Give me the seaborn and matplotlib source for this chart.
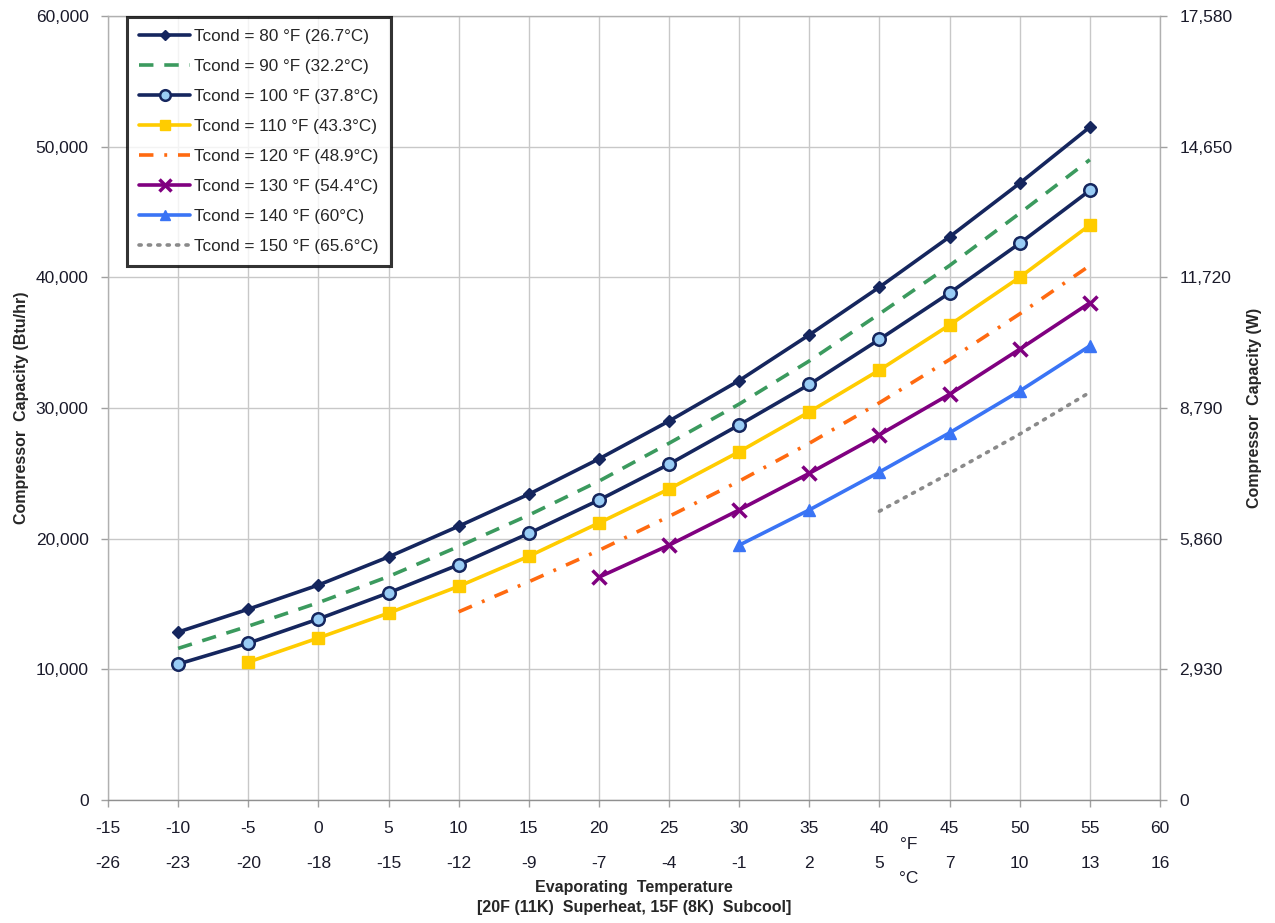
import numpy as np
import pandas as pd
import matplotlib
matplotlib.use("Agg")
import matplotlib.pyplot as plt
import seaborn as sns
from matplotlib.lines import Line2D
from matplotlib.ticker import FuncFormatter

# Evaporating temperature (°F) and corresponding °C row labels
temp_f = [-15, -10, -5, 0, 5, 10, 15, 20, 25, 30, 35, 40, 45, 50, 55, 60]
temp_c = [-26, -23, -20, -18, -15, -12, -9, -7, -4, -1, 2, 5, 7, 10, 13, 16]

# Compressor capacity (Btu/hr) per condensing temperature
t80_x = [-10, -5, 0, 5, 10, 15, 20, 25, 30, 35, 40, 45, 50, 55]
t80_y = [12850, 14600, 16450, 18600, 20950, 23400, 26100, 29000, 32100, 35600, 39250, 43100, 47200, 51500]
t90_x = [-10, -5, 0, 5, 10, 15, 20, 25, 30, 35, 40, 45, 50, 55]
t90_y = [11600, 13300, 15100, 17100, 19400, 21800, 24400, 27300, 30300, 33600, 37200, 40900, 44900, 49000]
t100_x = [-10, -5, 0, 5, 10, 15, 20, 25, 30, 35, 40, 45, 50, 55]
t100_y = [10400, 12000, 13850, 15850, 18000, 20400, 22950, 25700, 28700, 31800, 35250, 38800, 42600, 46650]
t110_x = [-5, 0, 5, 10, 15, 20, 25, 30, 35, 40, 45, 50, 55]
t110_y = [10550, 12400, 14300, 16350, 18650, 21200, 23800, 26650, 29700, 32900, 36350, 40000, 44000]
t120_x = [10, 15, 20, 25, 30, 35, 40, 45, 50, 55]
t120_y = [14400, 16700, 19100, 21700, 24400, 27300, 30400, 33700, 37200, 40900]
t130_x = [20, 25, 30, 35, 40, 45, 50, 55]
t130_y = [17050, 19500, 22200, 25000, 27950, 31050, 34500, 38050]
t140_x = [30, 35, 40, 45, 50, 55]
t140_y = [19500, 22200, 25100, 28100, 31300, 34750]
t150_x = [40, 45, 50, 55]
t150_y = [22100, 25000, 28000, 31200]

labels = [
    "Tcond = 80 °F (26.7°C)",
    "Tcond = 90 °F (32.2°C)",
    "Tcond = 100 °F (37.8°C)",
    "Tcond = 110 °F (43.3°C)",
    "Tcond = 120 °F (48.9°C)",
    "Tcond = 130 °F (54.4°C)",
    "Tcond = 140 °F (60°C)",
    "Tcond = 150 °F (65.6°C)",
]

# Right axis (W) tick values
watts_ticks = [0, 2930, 5860, 8790, 11720, 14650, 17580]

sns.set_theme(style="white")
plt.rcParams["font.family"] = ["Liberation Sans", "DejaVu Sans"]

navy = "#15265e"
gray = "#8a8a8a"
tick_gray = "#a0a0a0"
label_color = "#1a1a2a"
styles = [
    dict(color=navy, ls="-", marker="D", ms=6, mfc=navy, mec=navy, mew=1),
    dict(color="#3b9a5e", ls=(0, (4, 3)), marker=None),
    dict(color=navy, ls="-", marker="o", ms=9, mfc="#99ccf5", mec=navy, mew=1.8),
    dict(color="#ffcc00", ls="-", marker="s", ms=8, mfc="#ffcc00", mec="#ffcc00", mew=1),
    dict(color="#ff6a10", ls=(0, (4, 3, 0.8, 3)), marker=None),
    dict(color="#800080", ls="-", marker="x", ms=10, mfc="#800080", mec="#800080", mew=2.5),
    dict(color="#3a74f5", ls="-", marker="^", ms=8, mfc="#3a74f5", mec="#3a74f5", mew=1),
    dict(color=gray, ls=(0, (0.6, 2.0)), marker=None),
]

series = [(t80_x, t80_y), (t90_x, t90_y), (t100_x, t100_y), (t110_x, t110_y),
          (t120_x, t120_y), (t130_x, t130_y), (t140_x, t140_y), (t150_x, t150_y)]

fig = plt.figure(figsize=(12.75, 9.23), dpi=100)
ax = fig.add_axes([0.0847, 0.1333, 0.8251, 0.8494])

lw = 2.6
handles = []
for (xs, ys), st in zip(series, styles):
    cap = "round" if st["color"] == gray else "butt"
    sns.lineplot(x=xs, y=ys, ax=ax, color=st["color"], linestyle=st["ls"], linewidth=lw,
                 marker=st["marker"], markersize=st.get("ms", 0),
                 markerfacecolor=st.get("mfc"), markeredgecolor=st.get("mec"),
                 markeredgewidth=st.get("mew", 1), legend=False, zorder=3,
                 dash_capstyle=cap)
    handles.append(Line2D([0], [0], color=st["color"], linestyle=st["ls"], linewidth=lw,
                          marker=st["marker"], markersize=st.get("ms", 0) * 0.85,
                          markerfacecolor=st.get("mfc"), markeredgecolor=st.get("mec"),
                          markeredgewidth=st.get("mew", 1), dash_capstyle=cap))

ax.set_xlim(-15, 60)
ax.set_ylim(0, 60000)
ax.set_xticks(temp_f)
ax.set_xticklabels([str(v) for v in temp_f])
ax.set_yticks(np.arange(0, 60001, 10000))
ax.yaxis.set_major_formatter(FuncFormatter(lambda v, p: f"{int(v):,}"))
ax.grid(True, color="#c8c8c8", linewidth=1.0, zorder=0)
ax.set_axisbelow(True)
for sp in ax.spines.values():
    sp.set_color("#b0b0b0")
    sp.set_linewidth(1.0)
ax.spines["bottom"].set_color("#909090")
ax.tick_params(axis="x", which="major", direction="out", bottom=True, labelsize=12.5,
               length=5, width=1, color=tick_gray, pad=10, labelcolor=label_color)
ax.tick_params(axis="y", which="major", direction="out", left=True, labelsize=12.5,
               length=5, width=1, color=tick_gray, pad=9, labelcolor=label_color)

# °C row under the °F tick labels
sec = ax.secondary_xaxis("bottom")
sec.set_xticks(temp_f)
sec.set_xticklabels([str(v) for v in temp_c])
sec.tick_params(axis="x", labelsize=12.5, length=0, pad=40, labelcolor=label_color)
sec.spines["bottom"].set_visible(False)

ax.text(42.1, -0.057, "°F", transform=ax.get_xaxis_transform(), ha="center", va="center",
        fontsize=12.5, color=label_color)
ax.text(42.1, -0.1, "°C", transform=ax.get_xaxis_transform(), ha="center", va="center",
        fontsize=12.5, color=label_color)

ax.set_xlabel("Evaporating  Temperature\n[20F (11K)  Superheat, 15F (8K)  Subcool]",
              fontsize=11.5, fontweight="bold", linespacing=1.4)
ax.xaxis.set_label_coords(0.5, -0.102, transform=ax.transAxes)
ax.xaxis.label.set_va("top")
ax.set_ylabel("Compressor  Capacity (Btu/hr)", fontsize=11.5, fontweight="bold")
ax.yaxis.set_label_coords(-0.075, 0.5, transform=ax.transAxes)

ax2 = ax.twinx()
ax2.set_ylim(0, watts_ticks[-1])
ax2.set_yticks(watts_ticks)
ax2.yaxis.set_major_formatter(FuncFormatter(lambda v, p: f"{int(v):,}"))
ax2.tick_params(axis="y", which="major", direction="out", right=True, labelsize=12.5,
                length=5, width=1, color=tick_gray, pad=9, labelcolor=label_color)
ax2.set_ylabel("Compressor  Capacity (W)", fontsize=11.5, fontweight="bold")
ax2.yaxis.set_label_coords(1.083, 0.5, transform=ax2.transAxes)
ax2.grid(False)
for sp in ax2.spines.values():
    sp.set_visible(False)

leg = ax.legend(handles, labels, loc="upper left", bbox_to_anchor=(0.018, 0.999),
                fontsize=12.3, frameon=True, fancybox=False, handlelength=3.0,
                handletextpad=0.25, labelspacing=0.88, borderpad=0.7, borderaxespad=0.0)
leg.get_frame().set_edgecolor("black")
leg.get_frame().set_linewidth(2.2)
leg.set_zorder(5)

fig.savefig("out.png", dpi=100)
